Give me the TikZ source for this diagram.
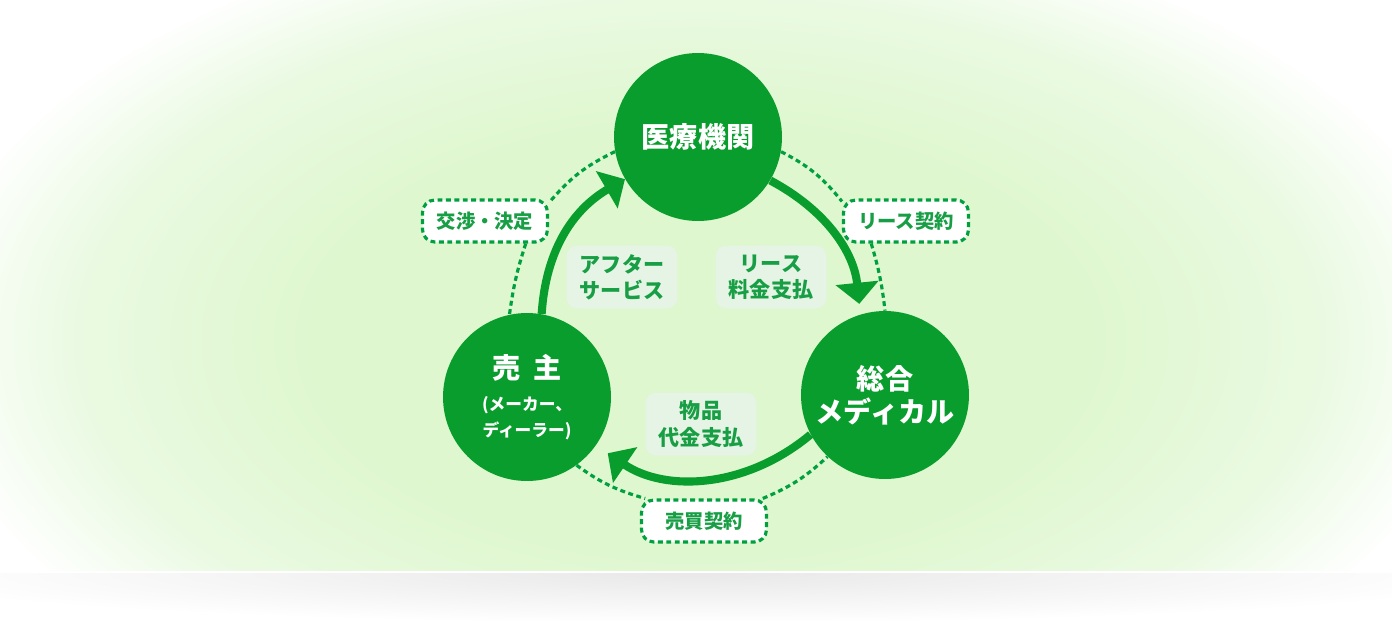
\documentclass[tikz,border=0pt]{standalone}
\usepackage{fontspec}
\setmainfont{Noto Sans CJK JP}
\usetikzlibrary{positioning,arrows.meta,calc}
\definecolor{circfill}{RGB}{8,157,44}
\definecolor{labtext}{RGB}{24,158,68}
\definecolor{dotcol}{RGB}{0,160,64}
\definecolor{notefill}{RGB}{229,244,228}
\definecolor{bgin}{RGB}{222,247,206}
\definecolor{bgmid}{RGB}{234,250,226}
\pgfdeclareradialshading{bgglow}{\pgfpoint{0bp}{0bp}}{color(0bp)=(bgin); color(12bp)=(bgin); color(20bp)=(bgmid); color(25bp)=(white); color(50bp)=(white)}
\tikzset{
	party/.style={circle,fill=circfill,minimum size=3.36cm,inner sep=0,text=white,font=\bfseries\fontsize{16}{19}\selectfont,align=center},
	tag/.style={rectangle,rounded corners=7pt,fill=white,draw=dotcol,line width=1.8pt,dash pattern=on 2.8pt off 2pt,minimum width=2.5cm,minimum height=0.84cm,text=labtext,font=\bfseries\fontsize{11}{13}\selectfont},
	note/.style={rectangle,rounded corners=6pt,fill=notefill,minimum width=2.22cm,minimum height=1.26cm,text=labtext,font=\bfseries\fontsize{12}{15}\selectfont,align=center},
	flow/.style={-{Triangle[width=24pt,length=12pt]},draw=circfill,line width=4.6pt},
	link/.style={draw=dotcol,line width=1.8pt,dash pattern=on 2.8pt off 2pt}
}
\newcommand{\sublabel}{\fontsize{9.5}{10}\selectfont}
\begin{document}
\begin{tikzpicture}[x=0.02cm,y=-0.02cm]
	\useasboundingbox (0,0) rectangle (1392,620);
	%%% background
	\fill[white] (0,0) rectangle (1392,620);
	\begin{scope}
		\clip (0,0) rectangle (1392,570);
		\shade[shading=bgglow] (700,340) ellipse [x radius=780, y radius=430];
	\end{scope}
	\begin{scope}
		\clip (0,573) rectangle (1392,620);
		\shade[inner color=black!9, outer color=white] (696,573) ellipse [x radius=820, y radius=50];
	\end{scope}
	
	%%% parties
	\node[party] (iryo) at (698,137) {医療機関};
	\node[party] (seller) at (527,397) {売\hspace{0.45em}主\\[-1pt]\sublabel(メーカー、\\[-4pt]\sublabel ディーラー)};
	\node[party] (souga) at (885,395) {総合\\メディカル};
	
	%%% contracts
	\node[tag] (kosho) at (485,221) {交渉・決定};
	\node[tag] (lease) at (906,221) {リース契約};
	\node[tag] (baibai) at (704,521) {売買契約};
	\draw[link] (iryo.190) to[bend right=12] (kosho.16);
	\draw[link] (kosho.-29) to[bend right=5] (seller.102);
	\draw[link] (iryo.-10) to[bend left=12] (lease.163);
	\draw[link] (lease.213) to[bend left=5] (souga.90);
	\draw[link] (seller.-54) to[bend right=10] (baibai.159);
	\draw[link] (baibai.21) to[bend right=10] (souga.227);
	
	%%% flows
	\node[note] (after) at (622,277) {アフター\\サービス};
	\node[note] (leasefee) at (771,277) {リース\\料金支払};
	\node[note] (goods) at (701,424) {物品\\代金支払};
	\draw[flow] (seller.80) to[bend left=28] (iryo.210);
	\draw[flow,shorten >=6pt] (iryo.-31) to[bend left=28] (souga.107);
	\draw[flow,shorten >=8pt] (souga.208) to[bend left=37] (seller.-35);
\end{tikzpicture}
\end{document}
